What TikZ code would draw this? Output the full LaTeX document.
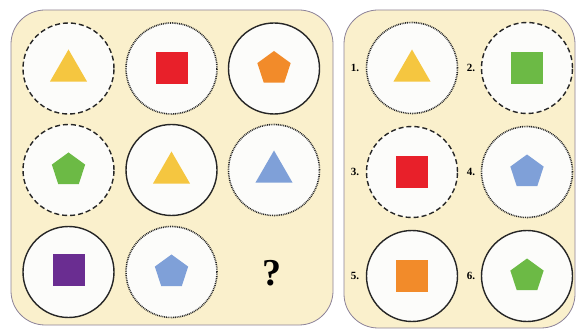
\documentclass[tikz,border=0pt]{standalone}
\usepackage{fontspec}
\setmainfont{Liberation Serif}
\usetikzlibrary{shapes.geometric}
\definecolor{panelbg}{HTML}{FAF0CC}
\definecolor{panelline}{HTML}{8C8298}
\definecolor{discfill}{HTML}{FCFCFA}
\definecolor{cyellow}{HTML}{F5C640}
\definecolor{cred}{HTML}{E8202A}
\definecolor{corange}{HTML}{F28B2A}
\definecolor{cgreen}{HTML}{6CBA45}
\definecolor{cblue}{HTML}{7FA0D8}
\definecolor{cpurple}{HTML}{6A2D91}
\tikzset{
  panel/.style={fill=panelbg,draw=panelline,line width=0.8pt,rounded corners=34pt},
  disc/.style={circle,minimum size=91pt,inner sep=0pt,fill=discfill,draw=black!85,line width=1.4pt},
  dashring/.style={disc,dash pattern=on 5pt off 3pt},
  dotring/.style={disc,line width=1.6pt,dash pattern=on 0.9pt off 0.9pt},
  solidring/.style={disc},
  tri/.style={regular polygon,regular polygon sides=3,minimum size=43pt,inner sep=0pt,fill=#1},
  sq/.style={rectangle,minimum size=32pt,inner sep=0pt,fill=#1},
  pent/.style={regular polygon,regular polygon sides=5,minimum size=35pt,inner sep=0pt,fill=#1},
  lbl/.style={font=\bfseries\fontsize{11}{11}\selectfont,inner sep=0pt}
}
\begin{document}
\begin{tikzpicture}[x=1pt,y=-1pt]
\useasboundingbox (0,0) rectangle (576,331);
% panels
\path[panel] (11,10) rectangle (333,325);
\path[panel] (344,10) rectangle (575,328);
% left grid
\node[dashring]  (a1) at (68.5,68.5) {};
\node[dotring]   (a2) at (171.5,68.5) {};
\node[solidring] (a3) at (274,68.5) {};
\node[dashring]  (b1) at (68.5,170) {};
\node[solidring] (b2) at (171.5,170) {};
\node[dotring]   (b3) at (274,170) {};
\node[solidring] (c1) at (68.5,272) {};
\node[dotring]   (c2) at (171.5,272) {};
\node[font=\bfseries\fontsize{38}{38}\selectfont,inner sep=0pt] (q) at (272,273) {?};
\node[tri=cyellow]  (sa1) at (68.5,71) {};
\node[sq=cred]      (sa2) at (171.5,68) {};
\node[pent=corange] (sa3) at (274,68.5) {};
\node[pent=cgreen]  (sb1) at (68.5,170) {};
\node[tri=cyellow]  (sb2) at (171.5,173) {};
\node[tri=cblue]    (sb3) at (274,172) {};
\node[sq=cpurple]   (sc1) at (68.5,270) {};
\node[pent=cblue]   (sc2) at (171.5,272) {};
% right options
\node[dotring]   (o1) at (412,68) {};
\node[dashring]  (o2) at (527,68) {};
\node[dashring]  (o3) at (412,172) {};
\node[dotring]   (o4) at (527,172) {};
\node[solidring] (o5) at (412,276) {};
\node[solidring] (o6) at (527,276) {};
\node[tri=cyellow]  (so1) at (412,71) {};
\node[sq=cgreen]    (so2) at (527,68) {};
\node[sq=cred]      (so3) at (412,172) {};
\node[pent=cblue]   (so4) at (527,172) {};
\node[sq=corange]   (so5) at (412,276) {};
\node[pent=cgreen]  (so6) at (527,276) {};
\node[lbl] (l1) at (355,68) {1.};
\node[lbl] (l2) at (471,68) {2.};
\node[lbl] (l3) at (355,172) {3.};
\node[lbl] (l4) at (471,172) {4.};
\node[lbl] (l5) at (355,276) {5.};
\node[lbl] (l6) at (471,276) {6.};
\end{tikzpicture}
\end{document}
